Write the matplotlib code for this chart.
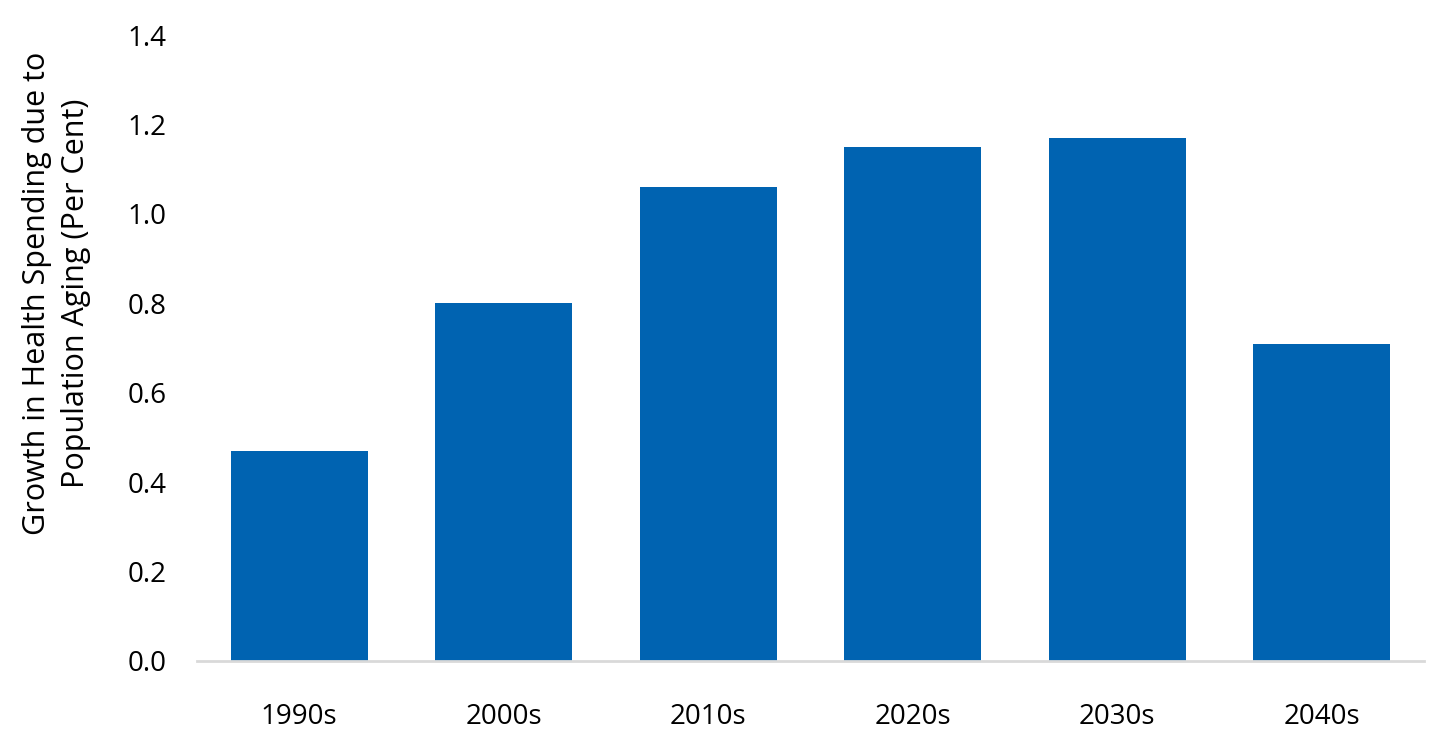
import numpy as np
import matplotlib.pyplot as plt

plt.rcParams['font.family'] = ['Open Sans', 'DejaVu Sans']

# datos
decadas = ['1990s', '2000s', '2010s', '2020s', '2030s', '2040s']
crecimiento = [0.47, 0.80, 1.06, 1.15, 1.17, 0.71]

font_size = 20
color_barra = '#0063b1'

fig = plt.figure(figsize=(14.43, 7.42), dpi=100)
ax = fig.add_axes([0.1365, 0.1092, 0.8503, 0.8436])

x = np.arange(len(decadas))
ax.bar(x, crecimiento, width=0.67, color=color_barra, zorder=2)

ax.set_xlim(-0.5, len(decadas) - 0.5)
ax.set_ylim(0, 1.4)
ax.set_yticks(np.arange(0, 1.41, 0.2))
ax.set_yticklabels(['%.1f' % v for v in np.arange(0, 1.41, 0.2)], fontsize=font_size)
ax.set_xticks(x)
ax.set_xticklabels(decadas, fontsize=font_size)
ax.tick_params(axis='both', length=0, colors='black')
ax.tick_params(axis='y', pad=22)
ax.tick_params(axis='x', pad=30)

for s in ['top', 'right', 'left']:
    ax.spines[s].set_visible(False)
ax.spines['bottom'].set_color('#d9d9d9')
ax.spines['bottom'].set_linewidth(2)
ax.spines['bottom'].set_zorder(3)

fig.text(0.039, 0.605, 'Growth in Health Spending due to\nPopulation Aging (Per Cent)',
         rotation=90, ha='center', va='center', multialignment='center',
         fontsize=22, linespacing=1.4)

plt.savefig('out.png', dpi=100)
